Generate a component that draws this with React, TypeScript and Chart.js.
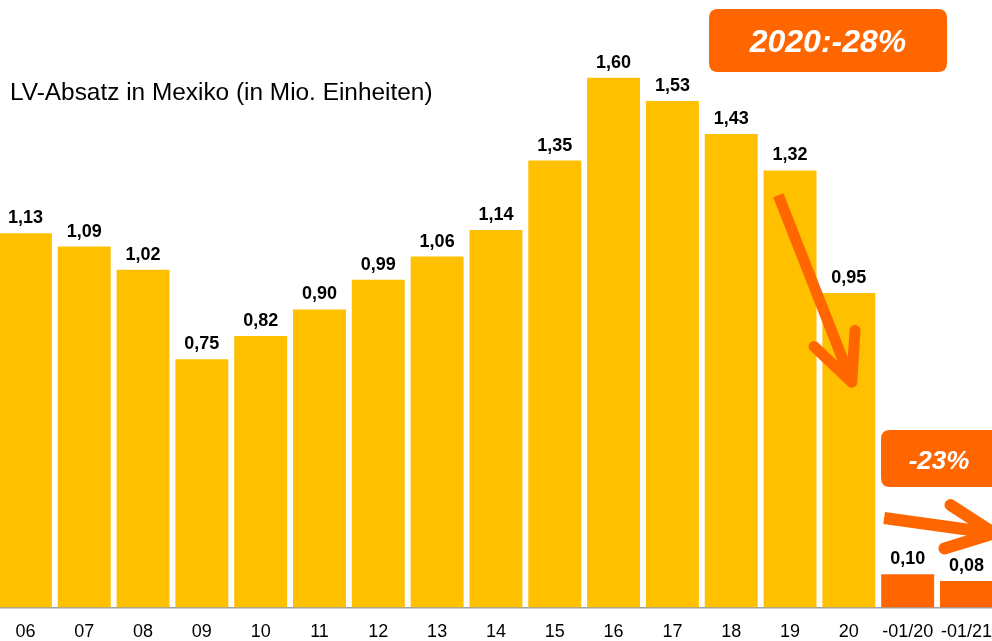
import React, { useEffect, useRef } from "react";
import { Chart, registerables } from "chart.js";

Chart.register(...registerables);

const categories = ["06", "07", "08", "09", "10", "11", "12", "13", "14", "15", "16", "17", "18", "19", "20", "-01/20", "-01/21"];
const salesValues = [1.13, 1.09, 1.02, 0.75, 0.82, 0.9, 0.99, 1.06, 1.14, 1.35, 1.6, 1.53, 1.43, 1.32, 0.95, 0.1, 0.08];
const highlightFrom = 15; // index from which bars are the YTD comparison (orange)
const titleText = "LV-Absatz in Mexiko (in Mio. Einheiten)";
const calloutYear = "2020:-28%";
const calloutYtd = "-23%";

const YELLOW = "#FFC000";
const ORANGE = "#FF6600";
const FONT = "'Liberation Sans', Arial, Helvetica, sans-serif";

const CANVAS_W = 1010;
const CANVAS_H = 657;

const fmt = (v: number) => v.toFixed(2).replace(".", ",");

function roundRect(ctx: CanvasRenderingContext2D, x: number, y: number, w: number, h: number, r: number) {
  ctx.beginPath();
  ctx.moveTo(x + r, y);
  ctx.lineTo(x + w - r, y);
  ctx.quadraticCurveTo(x + w, y, x + w, y + r);
  ctx.lineTo(x + w, y + h - r);
  ctx.quadraticCurveTo(x + w, y + h, x + w - r, y + h);
  ctx.lineTo(x + r, y + h);
  ctx.quadraticCurveTo(x, y + h, x, y + h - r);
  ctx.lineTo(x, y + r);
  ctx.quadraticCurveTo(x, y, x + r, y);
  ctx.closePath();
}

function drawArrow(ctx: CanvasRenderingContext2D, x1: number, y1: number, x2: number, y2: number, width: number) {
  const ang = Math.atan2(y2 - y1, x2 - x1);
  const wing = 52;
  const spread = (25 * Math.PI) / 180;
  ctx.save();
  ctx.strokeStyle = ORANGE;
  ctx.lineWidth = width;
  ctx.lineCap = "butt";
  ctx.beginPath();
  ctx.moveTo(x1, y1);
  ctx.lineTo(x2 - Math.cos(ang) * 4, y2 - Math.sin(ang) * 4);
  ctx.stroke();
  ctx.lineCap = "round";
  ctx.lineJoin = "round";
  ctx.beginPath();
  ctx.moveTo(x2 - wing * Math.cos(ang - spread), y2 - wing * Math.sin(ang - spread));
  ctx.lineTo(x2, y2);
  ctx.lineTo(x2 - wing * Math.cos(ang + spread), y2 - wing * Math.sin(ang + spread));
  ctx.stroke();
  ctx.restore();
}

const decorPlugin = {
  id: "decor",
  afterDatasetsDraw(chart: any) {
    const ctx: CanvasRenderingContext2D = chart.ctx;
    const xs = chart.scales.x;
    const ys = chart.scales.y;
    const meta = chart.getDatasetMeta(0);

    // value labels
    ctx.save();
    ctx.fillStyle = "#000";
    ctx.font = `bold 18px ${FONT}`;
    ctx.textAlign = "center";
    ctx.textBaseline = "alphabetic";
    meta.data.forEach((bar: any, i: number) => {
      ctx.fillText(fmt(salesValues[i]), bar.x, bar.y - 10);
    });
    ctx.restore();

    // title
    ctx.save();
    ctx.fillStyle = "#000";
    ctx.font = `24.4px ${FONT}`;
    ctx.textAlign = "left";
    ctx.textBaseline = "middle";
    ctx.fillText(titleText, 14, 93);
    ctx.restore();

    const x0 = xs.getPixelForValue(0);
    const step = xs.getPixelForValue(1) - x0;
    const px = (idx: number) => x0 + idx * step;

    // arrows (in category-index / value coordinates)
    drawArrow(ctx, px(12.8), ys.getPixelForValue(1.245), px(14.05), ys.getPixelForValue(0.68), 11);
    drawArrow(ctx, px(14.6), ys.getPixelForValue(0.27), px(16.47), ys.getPixelForValue(0.224), 12);

    // callout boxes
    ctx.save();
    ctx.fillStyle = ORANGE;
    roundRect(ctx, 713, 9, 238, 63, 9);
    ctx.fill();
    roundRect(ctx, 885, 430, 125, 57, 9);
    ctx.fill();
    ctx.fillStyle = "#fff";
    ctx.textAlign = "center";
    ctx.textBaseline = "middle";
    ctx.font = `italic bold 32px ${FONT}`;
    ctx.fillText(calloutYear, 832, 43);
    ctx.font = `italic bold 26px ${FONT}`;
    ctx.fillText(calloutYtd, 943, 462);
    ctx.restore();
  },
};

export default function App() {
  const ref = useRef<HTMLCanvasElement | null>(null);

  useEffect(() => {
    if (!ref.current) return;
    const chart = new Chart(ref.current, {
      type: "bar",
      data: {
        labels: categories,
        datasets: [
          {
            data: salesValues,
            backgroundColor: salesValues.map((_, i) => (i >= highlightFrom ? ORANGE : YELLOW)),
            borderWidth: 0,
            categoryPercentage: 1,
            barPercentage: 0.9,
          },
        ],
      },
      options: {
        animation: false,
        responsive: false,
        maintainAspectRatio: false,
        layout: { padding: 0 },
        plugins: {
          legend: { display: false },
          tooltip: { enabled: false },
          title: { display: false },
        },
        scales: {
          x: {
            grid: { display: false, drawTicks: false, tickLength: 0 },
            border: { display: true, color: "#A0A0A0", width: 1.5 },
            ticks: {
              color: "#000",
              font: { family: FONT, size: 18 },
              padding: 14,
              maxRotation: 0,
              autoSkip: false,
            },
          },
          y: {
            display: false,
            min: 0,
            max: 1.835,
          },
        },
      },
      plugins: [decorPlugin],
    });
    return () => chart.destroy();
  }, []);

  return (
    <div style={{ position: "fixed", left: -4, top: 0, width: CANVAS_W, height: 641, overflow: "hidden", background: "#fff" }}>
      <canvas ref={ref} width={CANVAS_W} height={CANVAS_H} style={{ display: "block", width: CANVAS_W, height: CANVAS_H }} />
    </div>
  );
}
